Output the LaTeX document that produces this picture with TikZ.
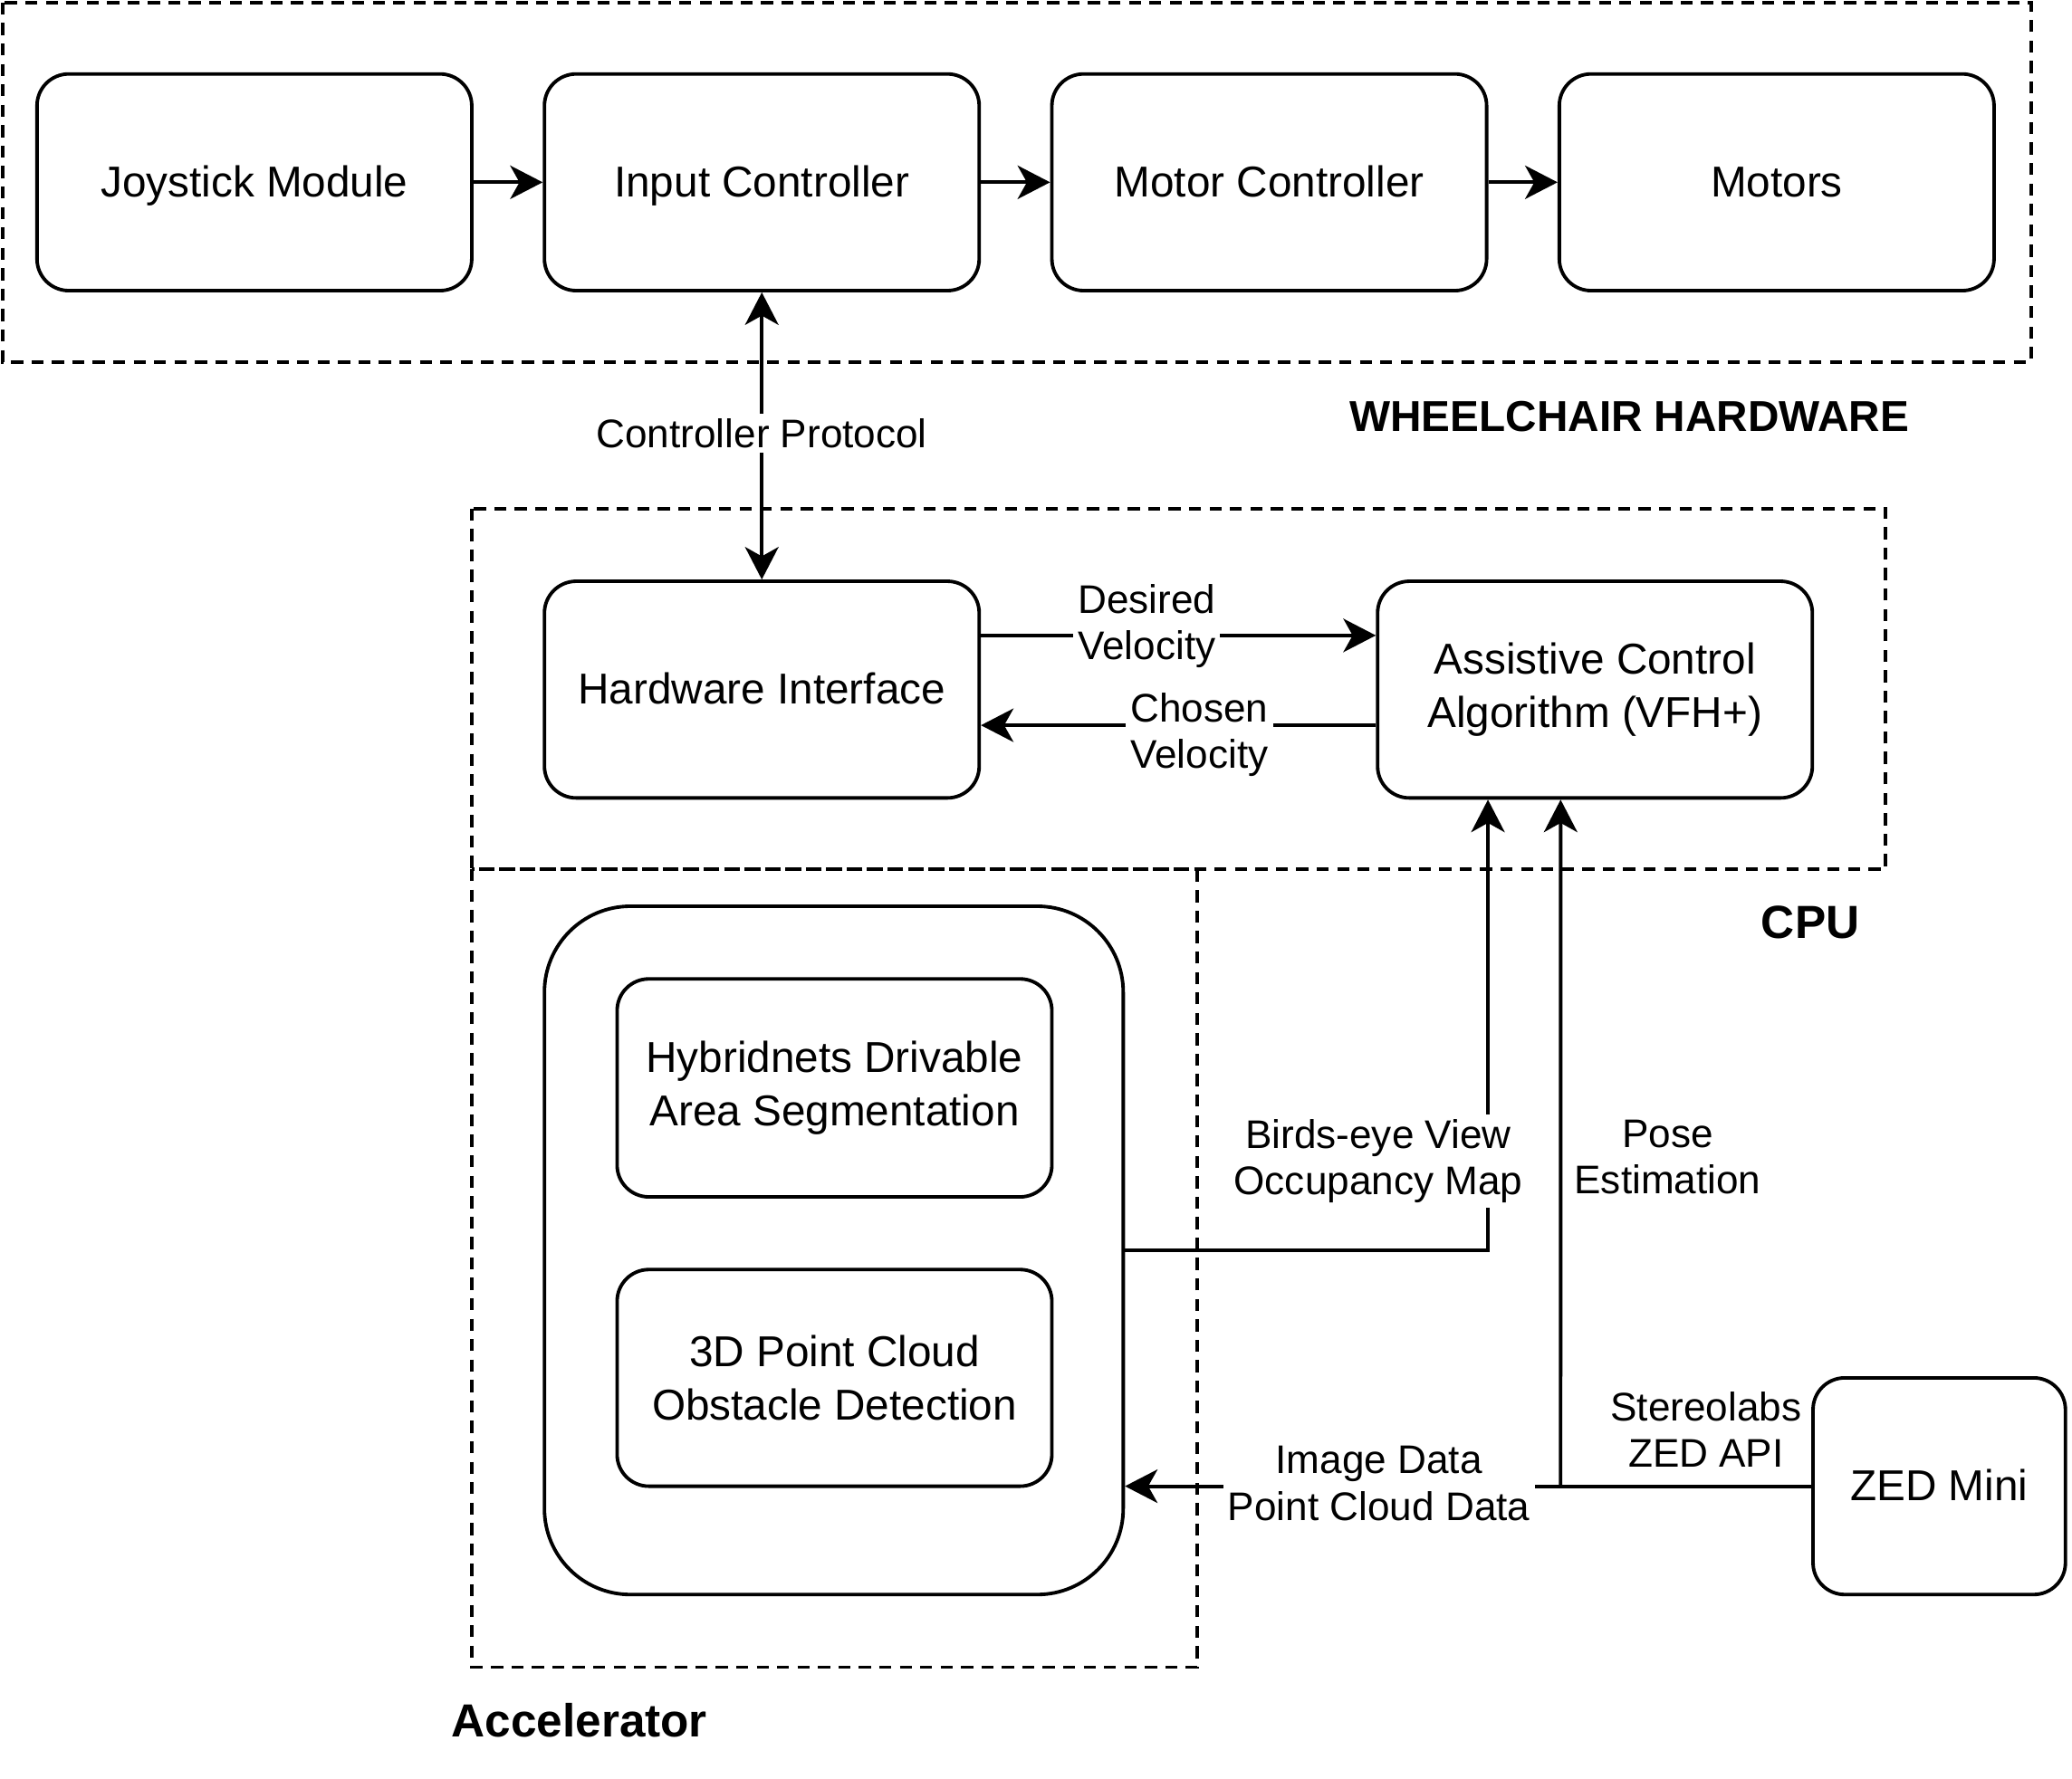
\documentclass[tikz,border=0pt]{standalone}
\usepackage{fontspec}
\setmainfont{Liberation Sans}
\usetikzlibrary{arrows.meta,positioning}
\tikzset{
  blk/.style={draw, line width=0.75pt, rounded corners=0.24cm, minimum width=3.29cm, minimum height=1.64cm, inner sep=0pt, align=center},
  oneline/.style={text height=0.72em, text depth=0.1em},
  grp/.style={draw, line width=0.75pt, dash pattern=on 2.6pt off 1.8pt},
  arr/.style={line width=0.75pt, -{Stealth[length=7pt,width=7.2pt,inset=2pt]}},
  biarr/.style={line width=0.75pt, {Stealth[length=7pt,width=7.2pt,inset=2pt]}-{Stealth[length=7pt,width=7.2pt,inset=2pt]}},
  lbl/.style={fill=white, inner sep=1pt, align=center, font=\fontsize{8.6}{10}\selectfont},
  txt/.style={inner sep=1pt, align=center, font=\fontsize{8.6}{10}\selectfont},
  grplbl/.style={font=\fontsize{10}{12}\selectfont\bfseries}
}
\begin{document}
\begin{tikzpicture}[font=\fontsize{9.3}{11.4}\selectfont]
    \useasboundingbox (0,0) rectangle (15.68,-13.46);

    \draw[grp] (0.02,-0.02) rectangle (15.37,-2.74);
    \draw[grp] (3.57,-3.85) rectangle (14.27,-6.58);
    \draw[grp] (3.57,-6.58) rectangle (9.06,-12.62);

    \node[grplbl, font=\fontsize{9.3}{11.4}\selectfont\bfseries] (hwlbl) at (12.33,-3.15) {WHEELCHAIR HARDWARE};
    \node[grplbl] (cpulbl) at (13.70,-6.98) {CPU};
    \node[grplbl] (acclbl) at (4.385,-13.02) {Accelerator};

    \node[blk, oneline] (joy) at (1.925,-1.38) {Joystick Module};
    \node[blk, oneline] (input) at (5.765,-1.38) {Input Controller};
    \node[blk, oneline] (motorc) at (9.605,-1.38) {Motor Controller};
    \node[blk, oneline] (motors) at (13.445,-1.38) {Motors};

    \node[blk, oneline] (hw) at (5.765,-5.22) {Hardware Interface};
    \node[blk] (acg) at (12.07,-5.22) {Assistive Control\\Algorithm (VFH+)};

    \node[blk, minimum width=4.38cm, minimum height=5.21cm, rounded corners=0.65cm] (accel) at (6.31,-9.465) {};
    \node[blk, minimum height=1.65cm] (hyb) at (6.315,-8.235) {Hybridnets Drivable\\Area Segmentation};
    \node[blk] (pcl) at (6.315,-10.43) {3D Point Cloud\\Obstacle Detection};

    \node[blk, oneline, minimum width=1.91cm] (zed) at (14.675,-11.25) {ZED Mini};

    \draw[arr] (joy) -- (input);
    \draw[arr] (input) -- (motorc);
    \draw[arr] (motorc) -- (motors);

    \draw[biarr] (input) -- node[lbl, yshift=0.02cm]{Controller Protocol} (hw);

    \draw[arr] ([yshift=0.41cm]hw.east) -- node[lbl, pos=0.42, yshift=0.07cm]{Desired\\Velocity} ([yshift=0.41cm]acg.west);
    \draw[arr] ([yshift=-0.27cm]acg.west) -- node[lbl, pos=0.447, yshift=-0.07cm]{Chosen\\Velocity} ([yshift=-0.27cm]hw.east);

    \draw[arr] (accel.east) -| ([xshift=-0.81cm]acg.south);
    \node[lbl] (bev) at (10.43,-8.79) {Birds-eye View\\Occupancy Map};

    \coordinate (split) at (11.81,-11.25);
    \draw[line width=0.75pt] (zed.west) -- (split);
    \draw[arr] (split) -- node[lbl, pos=0.417, yshift=0.02cm]{Image Data\\Point Cloud Data} (split -| accel.east);
    \draw[arr] (split) -- ([xshift=-0.26cm]acg.south);

    \node[txt] (pose) at (12.62,-8.76) {Pose\\Estimation};
    \node[txt] (zedapi) at (12.91,-10.82) {Stereolabs\\ZED API};

\end{tikzpicture}
\end{document}
